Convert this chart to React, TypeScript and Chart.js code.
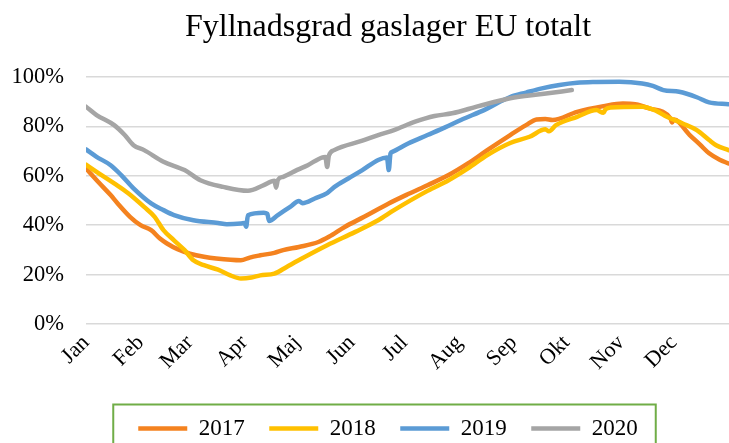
import React, { useEffect, useRef } from 'react';
import { Chart, registerables } from 'chart.js';

Chart.register(...registerables);

const chartTitle = 'Fyllnadsgrad gaslager EU totalt';
const monthLabels = ['Jan', 'Feb', 'Mar', 'Apr', 'Maj', 'Jun', 'Jul', 'Aug', 'Sep', 'Okt', 'Nov', 'Dec'];
const monthStartDays = [0, 31, 59, 90, 120, 151, 181, 212, 243, 273, 304, 334];
const yTicks = [0, 20, 40, 60, 80, 100];
const seriesNames = ['2017', '2018', '2019', '2020'];
const seriesColors = ['#F4821F', '#FFC000', '#5B9BD5', '#A5A5A5'];

const days2017 = [0, 7, 14, 18, 25, 31, 37, 42, 46, 52, 59, 67, 74, 88, 93, 99, 107, 112, 121, 132, 138, 147, 158, 172, 183, 194, 206, 217, 228, 241, 250, 256, 261, 265, 279, 294, 305, 312, 320, 332, 333, 334, 343, 349, 354, 360, 365];
const fill2017 = [63.0, 57.5, 52.2, 48.8, 43.4, 40.0, 38.0, 34.6, 32.6, 30.3, 28.5, 27.2, 26.5, 25.8, 26.9, 27.8, 28.8, 29.9, 31.2, 33.2, 35.3, 39.3, 43.4, 48.8, 52.6, 56.2, 60.3, 65.0, 70.4, 76.5, 80.5, 82.8, 83.0, 82.6, 85.9, 88.2, 89.3, 89.0, 87.3, 83.3, 81.6, 82.8, 76.5, 72.5, 69.1, 66.5, 65.0];

const days2018 = [0, 6, 16, 24, 33, 39, 44, 50, 56, 61, 67, 75, 82, 88, 94, 99, 107, 114, 120, 137, 153, 166, 175, 194, 206, 217, 228, 241, 252, 261, 263, 267, 279, 290, 294, 295, 298, 316, 324, 330, 339, 347, 354, 358, 365];
const fill2018 = [64.5, 61.6, 56.9, 52.9, 47.4, 43.4, 38.0, 33.9, 29.9, 25.8, 23.8, 22.0, 19.7, 18.4, 18.8, 19.7, 20.4, 23.1, 25.5, 31.9, 37.3, 42.0, 46.1, 53.9, 58.2, 63.0, 68.4, 73.3, 75.8, 78.8, 78.0, 80.5, 83.9, 86.6, 85.5, 86.8, 87.7, 88.0, 86.3, 83.9, 81.2, 78.5, 74.5, 72.4, 70.4];

const days2019 = [0, 6, 14, 20, 27, 37, 44, 50, 61, 75, 80, 88, 90, 91, 92, 101, 103, 104, 109, 116, 121, 123, 130, 137, 141, 149, 157, 166, 171, 172, 173, 174, 183, 194, 204, 213, 227, 241, 250, 259, 269, 279, 290, 303, 316, 322, 328, 337, 347, 354, 365];
const fill2019 = [70.7, 67.7, 64.3, 60.3, 54.9, 48.8, 46.1, 44.1, 42.0, 40.9, 40.4, 40.7, 40.9, 39.4, 44.0, 45.0, 44.6, 41.7, 44.1, 47.4, 49.8, 48.9, 50.8, 53.0, 55.4, 58.9, 62.3, 66.4, 67.4, 62.3, 69.0, 69.7, 73.1, 76.5, 79.6, 82.6, 86.9, 91.9, 93.7, 95.4, 96.8, 97.7, 98.0, 98.1, 97.4, 96.4, 94.7, 94.0, 91.8, 89.7, 89.0];

const days2020 = [0, 6, 16, 22, 27, 33, 44, 56, 65, 78, 92, 101, 107, 108, 109, 112, 120, 126, 134, 136, 137, 138, 141, 157, 166, 175, 187, 198, 208, 223, 241, 259, 276];
const fill2020 = [88.0, 84.6, 80.5, 76.5, 72.4, 70.4, 65.7, 62.3, 58.2, 55.5, 53.9, 56.2, 58.0, 55.2, 58.3, 59.6, 62.4, 64.3, 67.4, 67.6, 63.6, 68.2, 70.4, 74.2, 76.5, 78.5, 81.9, 84.2, 85.3, 88.2, 91.4, 93.1, 94.7];

const seriesDays = [days2017, days2018, days2019, days2020];
const seriesFill = [fill2017, fill2018, fill2019, fill2020];

// The original chart is wider than the visible crop; the axis runs a bit past Dec 31.
const X_AXIS_MAX = 392;

const FONT = "'Liberation Serif', 'Times New Roman', serif";

const legendBorder = {
  id: 'legendBorder',
  afterDraw(chart: any) {
    const boxes = chart.legend && chart.legend.legendHitBoxes;
    if (!boxes || !boxes.length) return;
    const ctx = chart.ctx;
    const left = Math.min(...boxes.map((b: any) => b.left)) - 25;
    const right = Math.max(...boxes.map((b: any) => b.left + b.width)) + 18;
    const top = boxes[0].top + boxes[0].height / 2 - 24;
    ctx.save();
    ctx.strokeStyle = '#70AD47';
    ctx.lineWidth = 2;
    ctx.strokeRect(left, top, right - left, chart.height + 20 - top);
    ctx.restore();
  },
};

export default function App() {
  const canvasRef = useRef<HTMLCanvasElement | null>(null);

  useEffect(() => {
    if (!canvasRef.current) return;
    const datasets = seriesNames.map((name, i) => ({
      label: name,
      data: seriesDays[i].map((d, j) => ({ x: d, y: seriesFill[i][j] })),
      borderColor: seriesColors[i],
      backgroundColor: seriesColors[i],
      borderWidth: 4.5,
      borderCapStyle: 'round' as const,
      borderJoinStyle: 'round' as const,
      pointRadius: 0,
      pointHoverRadius: 0,
      cubicInterpolationMode: 'monotone' as const,
      fill: false,
      order: seriesNames.length - i,
    }));

    const chart = new Chart(canvasRef.current, {
      type: 'line',
      data: { datasets },
      plugins: [legendBorder],
      options: {
        animation: false,
        responsive: true,
        maintainAspectRatio: false,
        layout: { padding: 0 },
        font: { family: FONT },
        plugins: {
          title: {
            display: true,
            text: chartTitle,
            color: '#000',
            font: { family: FONT, size: 32, weight: 'normal' },
            padding: { top: 8, bottom: 30.6 },
          },
          legend: {
            display: true,
            position: 'bottom',
            labels: {
              usePointStyle: true,
              pointStyle: 'line',
              pointStyleWidth: 49,
              padding: 24.5,
              color: '#000',
              font: { family: FONT, size: 23 },
              sort: (a: any, b: any) => a.datasetIndex - b.datasetIndex,
            },
          },
          tooltip: { enabled: false },
        },
        scales: {
          x: {
            type: 'linear',
            min: 0,
            max: X_AXIS_MAX,
            grid: { display: false, drawTicks: false },
            border: { display: false },
            afterBuildTicks: (scale: any) => {
              scale.ticks = monthStartDays.map((v) => ({ value: v }));
            },
            afterFit: (scale: any) => {
              scale.height = 68.5;
            },
            ticks: {
              autoSkip: false,
              minRotation: 45,
              maxRotation: 45,
              padding: 6,
              color: '#000',
              font: { family: FONT, size: 22 },
              callback: (value: any) => {
                const idx = monthStartDays.indexOf(Number(value));
                return idx >= 0 ? monthLabels[idx] : '';
              },
            },
          },
          y: {
            min: 0,
            max: 100,
            afterBuildTicks: (scale: any) => {
              scale.ticks = yTicks.map((v) => ({ value: v }));
            },
            afterFit: (scale: any) => {
              scale.width = 86;
            },
            grid: { color: '#D9D9D9', lineWidth: 1.5, drawTicks: false },
            border: { display: false },
            ticks: {
              padding: 22,
              color: '#000',
              font: { family: FONT, size: 22.5 },
              callback: (value: any) => `${value}%`,
            },
          },
        },
      },
    });
    return () => chart.destroy();
  }, []);

  return (
    <div style={{ position: 'fixed', left: 0, top: 0, width: 729, height: 443, overflow: 'hidden', background: '#fff' }}>
      <div style={{ position: 'relative', width: 776, height: 450 }}>
        <canvas ref={canvasRef} />
      </div>
    </div>
  );
}
